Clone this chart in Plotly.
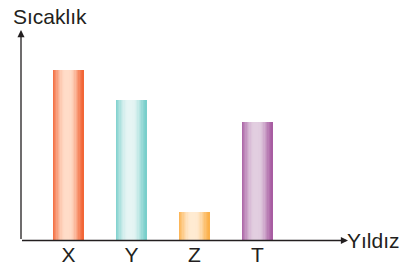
import plotly.graph_objects as go
import numpy as np

categories = ["X", "Y", "Z", "T"]
values = [170, 140, 28, 118]

edge_colors = ["#F15A29", "#6ECBC7", "#FBAA3C", "#A2529C"]
light_colors = ["#FFDCC8", "#E6F5F4", "#FFEBD2", "#E2CEE0"]

def hex2rgb(h):
    h = h.lstrip("#")
    return [int(h[i:i + 2], 16) for i in (0, 2, 4)]

def mix(c1, c2, f):
    a, b = hex2rgb(c1), hex2rgb(c2)
    return "rgb(%d,%d,%d)" % tuple(round(a[i] + (b[i] - a[i]) * f) for i in range(3))

N = 24
bar_w = 0.49
fig = go.Figure()
for k in range(N):
    t = (k + 0.5) / N
    f = float(np.exp(-(abs(t - 0.47) / 0.38) ** 3))
    cols = [mix(edge_colors[i], light_colors[i], f) for i in range(len(categories))]
    fig.add_trace(go.Bar(
        x=categories, y=values,
        width=bar_w / N * 1.15,
        offset=-bar_w / 2 + k * bar_w / N,
        marker=dict(color=cols, line=dict(width=0)),
        hoverinfo="skip", showlegend=False,
    ))

W, H = 405, 266
ink = "#231F20"
fig.update_layout(
    width=W, height=H, margin=dict(l=0, r=0, t=0, b=0),
    paper_bgcolor="white", plot_bgcolor="white",
    barmode="overlay", bargap=0,
    font=dict(family="Liberation Sans, Arial, sans-serif", color=ink),
    xaxis=dict(domain=[0, 1], range=[-68.5 / 63, (W - 68.5) / 63],
               showgrid=False, zeroline=False, showline=False, ticks="",
               tickfont=dict(size=21, color=ink)),
    yaxis=dict(domain=[26 / H, 1], range=[0, 240], showgrid=False,
               zeroline=False, showline=False, showticklabels=False),
    annotations=[
        dict(xref="paper", yref="paper", x=21 / W, y=1 - 30 / H,
             ax=0, ay=210.5, axref="pixel", ayref="pixel",
             showarrow=True, arrowhead=2, arrowsize=1.1, arrowwidth=1.3,
             arrowcolor=ink, text=""),
        dict(xref="paper", yref="paper", x=348 / W, y=1 - 240.5 / H,
             ax=-327.5, ay=0, axref="pixel", ayref="pixel",
             showarrow=True, arrowhead=2, arrowsize=1.1, arrowwidth=1.3,
             arrowcolor=ink, text=""),
        dict(xref="paper", yref="paper", x=11 / W, y=1 - 16 / H,
             xanchor="left", yanchor="middle", showarrow=False,
             text="Sıcaklık", font=dict(size=21, color=ink)),
        dict(xref="paper", yref="paper", x=345 / W, y=1 - 240 / H,
             xanchor="left", yanchor="middle", showarrow=False,
             text="Yıldız", font=dict(size=21, color=ink)),
    ],
)
fig.write_html("out.html", config={"displayModeBar": False},
               post_script="document.body.style.margin='0';")
